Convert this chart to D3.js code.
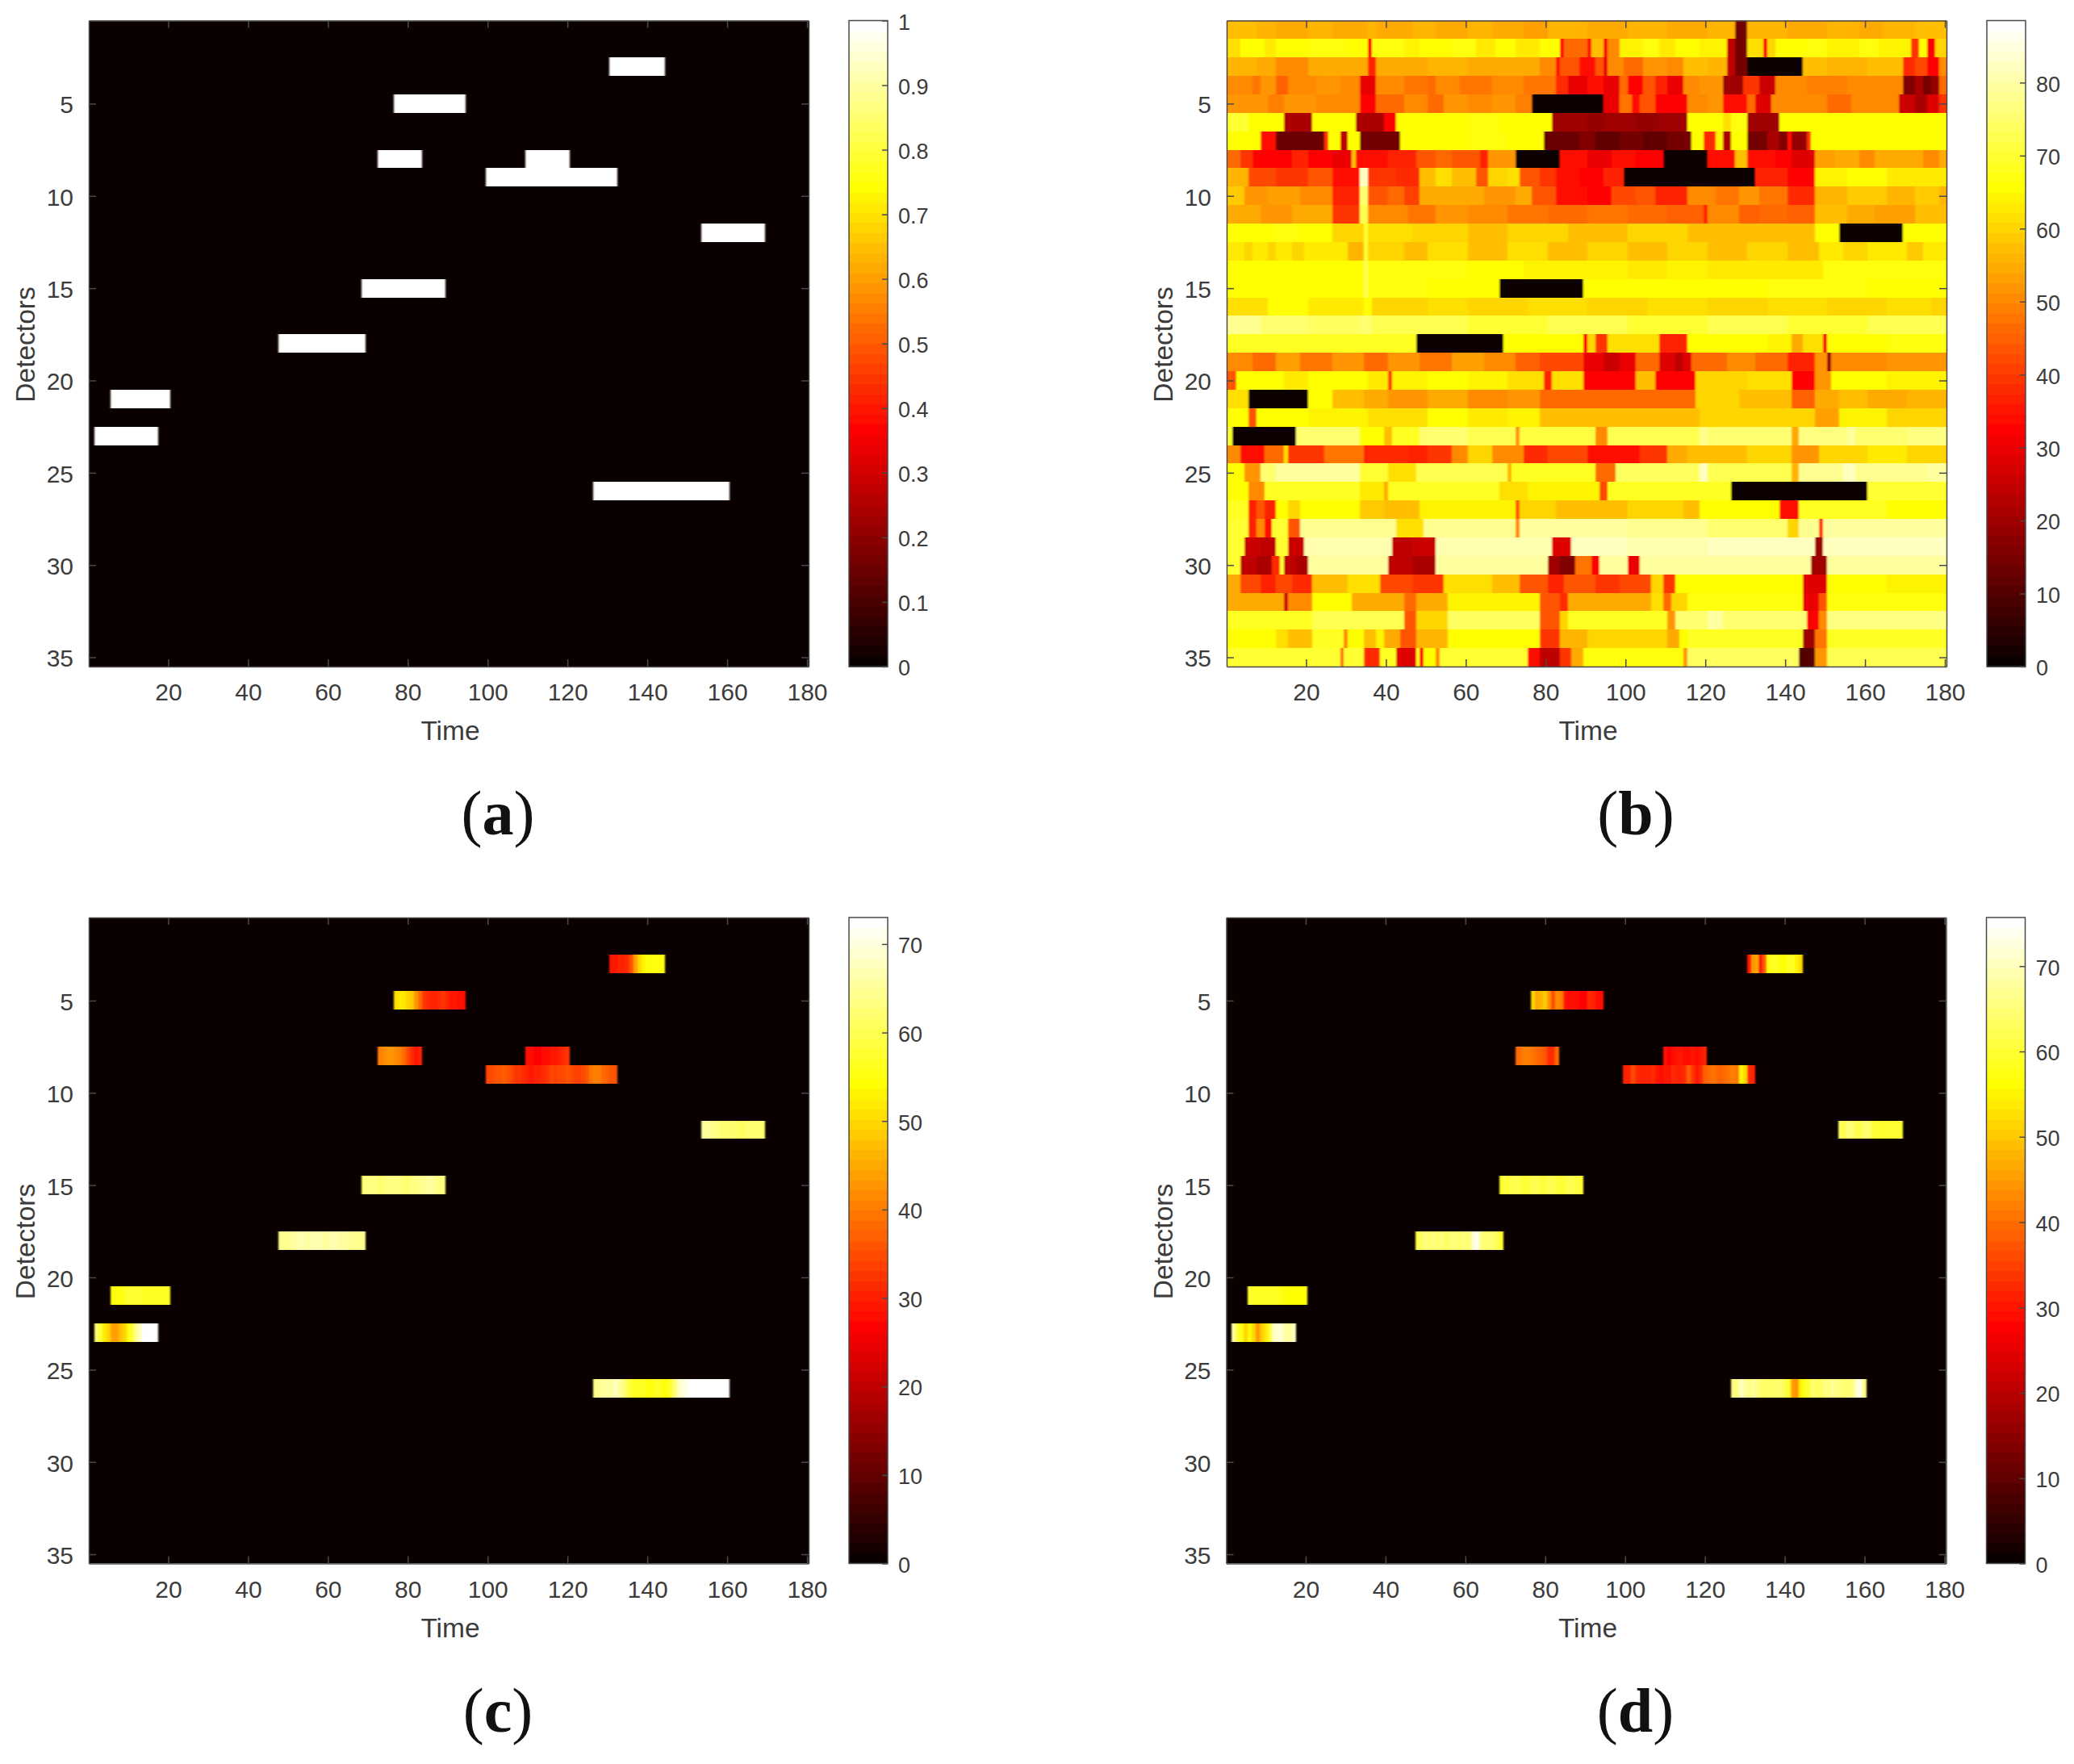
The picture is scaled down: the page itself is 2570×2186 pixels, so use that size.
<!DOCTYPE html>
<html><head><meta charset="utf-8">
<script src="https://cdn.jsdelivr.net/npm/d3@7"></script>
<style>html,body{margin:0;padding:0;background:#fff}svg{display:block}</style>
</head><body><div id="chart"></div>
<script>
// ---------- tick labels ----------
const timeTicks = [20,40,60,80,100,120,140,160,180];
const detectorTicks = [5,10,15,20,25,30,35];
const barTicksA = [0,0.1,0.2,0.3,0.4,0.5,0.6,0.7,0.8,0.9,1];
const barTicksB = [0,10,20,30,40,50,60,70,80];
const barTicksC = [0,10,20,30,40,50,60,70];
const barTicksD = [0,10,20,30,40,50,60,70];
const maxA = 1, maxB = 88.5, maxC = 73, maxD = 75.7;

// ---------- incident events (detector, first and last time step) ----------
const eventRow   = [3,5,8,8,9,12,15,18,21,23,26];
const eventStart = [131,77,73,110,100,154,69,48,6,2,127];
const eventEnd   = [144,94,83,120,132,169,89,69,20,17,160];

// ---------- panel (c) values inside each event ----------
const cE0=[29,29,30,30,31,36,44,50,53,55,55,55,55,55];
const cE1=[51,52,52,50,48,43,38,32,31,30,30,31,32,30,29,29,28,28];
const cE2=[41,42,43,43,42,41,38,35,31,29,30];
const cE3=[28,28,27,27,28,28,29,29,30,31,32];
const cE4=[35,35,36,36,37,36,35,33,32,31,30,29,30,30,31,33,35,34,35,35,36,35,34,34,35,36,39,40,40,38,37,36,36];
const cE5=[66,66,65,63,63,62,62,62,62,61,61,62,62,62,62,62];
const cE6=[62,63,63,63,62,62,63,63,63,63,62,62,63,63,64,64,66,66,64,63,63];
const cE7=[65,65,64,66,66,67,67,66,67,67,67,66,66,67,67,66,66,66,65,65,65,65];
const cE8=[55,55,55,56,58,58,58,58,57,57,56,56,56,56,57];
const cE9=[62,58,52,50,44,44,47,50,55,58,65,68,72,73,73,73];
const cE10=[65,65,66,66,66,68,66,63,60,58,57,56,56,55,55,56,56,55,55,58,63,68,70,71,72,72,73,73,73,73,73,73,73,72];
const cValues=[cE0,cE1,cE2,cE3,cE4,cE5,cE6,cE7,cE8,cE9,cE10];

// ---------- panel (d) values inside each event ----------
const dE0=[30,44,47,30,38,57,58,58,57,56,58,58,55,52];
const dE1=[52,47,48,50,44,36,43,42,30,29,29,29,28,28,32,31,29,29];
const dE2=[40,41,42,42,41,40,39,37,33,32,40];
const dE3=[29,28,29,30,30,29,29,30,29,30,31];
const dE4=[31,31,36,32,31,31,31,32,30,29,30,30,32,31,31,32,38,34,30,33,39,40,41,40,39,40,41,42,41,55,52,32,31];
const dE5=[63,62,66,64,62,62,64,64,61,60,60,60,60,60,60,60];
const dE6=[60,61,61,62,62,61,60,61,62,62,61,61,62,62,61,60,61,62,62,61,60];
const dE7=[62,63,66,64,66,64,66,63,64,66,65,65,66,64,72,74,66,65,64,65,62,60];
const dE8=[60,59,59,58,58,58,58,58,57,57,56,56,56,56,57];
const dE9=[68,60,57,52,56,52,44,50,54,60,70,72,72,68,68,70];
const dE10=[66,66,70,68,66,68,66,64,63,64,63,65,64,62,60,46,44,55,58,60,64,63,63,66,66,68,66,66,64,65,66,72,73,66];
const dValues=[dE0,dE1,dE2,dE3,dE4,dE5,dE6,dE7,dE8,dE9,dE10];

// ---------- panel (b): per detector, runs of [last time step, value] ----------
const b01=[7,58,12,56,20,54,26,56,35,54,37,56,46,54,52,56,60,54,66,56,74,54,80,53,90,56,100,54,110,56,120,54,127,56,130,14,140,56,150,54,158,56,164,54,172,56,177,58,180,57];
const b02=[3,62,9,66,12,63,20,66,30,67,35,65,36,33,44,67,48,64,56,66,62,67,67,63,72,66,78,63,83,65,84,32,90,46,91,34,94,58,95,32,98,50,104,64,108,67,112,63,118,66,125,64,127,24,130,14,134,62,135,32,137,60,145,66,150,67,158,64,163,67,171,64,173,40,175,66,177,32,180,60];
const b03=[7,56,12,55,20,51,26,55,35,54,37,36,44,55,50,54,60,56,70,54,78,55,82,50,83,34,88,44,92,34,94,44,95,30,99,50,104,46,110,52,114,50,120,57,125,56,127,24,130,14,150,57,160,56,169,57,172,38,175,42,178,32,180,50];
const b04=[6,51,8,48,12,52,15,45,22,50,28,52,33,51,37,30,44,50,50,48,52,46,58,50,66,48,74,51,82,48,85,38,90,30,94,34,98,30,100,46,104,32,107,44,110,36,114,30,118,50,124,52,129,20,133,40,137,26,145,50,155,49,162,51,169,50,172,16,174,22,176,14,178,18,180,46];
const b05=[10,52,14,49,22,52,33,50,37,32,44,47,50,50,54,47,60,52,66,50,72,52,76,49,94,50,98,30,101,48,103,34,107,44,115,32,120,50,124,52,130,34,132,46,136,28,150,50,156,47,168,50,172,26,175,22,178,28,180,40];
const b06=[5,70,14,66,21,22,32,66,39,22,42,32,60,66,68,67,81,66,90,20,94,18,102,20,108,18,115,20,124,66,126,61,130,67,138,20,155,66,170,65,180,66];
const b07=[8,66,12,34,24,13,25,40,28,66,30,24,33,66,43,14,60,66,70,67,79,66,88,13,92,16,98,12,104,15,110,12,116,14,119,66,122,38,124,64,126,22,130,66,135,14,138,22,140,16,141,34,145,18,146,40,165,66,180,65];
const b08=[3,46,6,40,16,33,20,36,26,32,31,30,32,58,40,34,47,36,52,44,56,47,60,43,63,44,65,37,72,52,83,0,90,34,96,30,102,34,110,32,120,0,127,34,130,58,137,34,141,32,147,28,152,53,158,55,162,51,168,54,174,55,178,51,180,54];
const b09=[5,56,12,42,20,40,26,44,33,34,35,82,42,40,48,38,52,58,56,61,62,58,65,44,70,60,73,61,78,44,82,40,88,34,94,32,99,36,132,0,140,36,147,32,155,64,165,66,180,63];
const b10=[4,59,10,52,18,53,26,50,33,36,35,76,40,44,44,46,48,41,56,54,64,55,72,52,76,54,82,44,90,34,96,32,102,42,107,44,115,36,122,50,128,48,133,52,140,48,147,38,155,56,165,59,172,56,178,59,180,56];
const b11=[8,54,16,52,26,54,33,40,35,72,45,50,52,48,60,52,70,50,80,48,90,46,100,48,110,46,119,45,120,36,128,50,133,45,140,46,147,45,155,58,162,55,172,53,180,58];
const b12=[11,66,18,67,26,66,34,60,35,70,46,62,60,60,70,58,85,60,100,58,115,60,130,58,147,57,153,66,169,0,180,66];
const b13=[4,63,6,60,10,63,12,60,16,63,19,60,30,63,34,56,35,70,44,60,50,57,60,61,70,58,80,61,90,57,100,60,110,57,120,60,130,57,140,60,148,57,154,63,160,60,170,63,174,59,180,63];
const b14=[34,66,35,72,60,67,74,66,100,64,110,63,120,64,130,63,149,63,180,67];
const b15=[34,66,35,72,50,67,68,66,89,0,104,66,120,65,135,66,160,67,180,66];
const b16=[10,62,20,65,34,63,36,66,50,60,60,62,75,60,90,62,105,60,120,62,135,60,150,62,165,60,176,62,180,60];
const b17=[8,78,20,76,33,74,36,76,60,72,80,70,100,72,120,70,140,72,160,70,180,72];
const b18=[20,68,33,69,47,68,69,0,89,66,90,32,92,60,95,40,104,62,108,62,115,36,135,66,141,64,144,54,149,62,150,32,165,66,180,67];
const b19=[6,50,12,47,18,53,26,48,34,52,40,47,48,52,56,48,64,53,72,50,78,45,89,42,94,30,98,26,102,30,108,46,112,28,114,24,116,28,125,46,132,50,140,46,147,36,150,52,151,18,165,50,180,52];
const b20=[2,44,14,66,20,63,35,66,40,63,41,40,50,64,60,66,70,64,79,62,81,36,89,62,102,32,107,58,117,33,130,60,141,62,147,33,151,52,165,66,180,64];
const b21=[5,62,20,0,26,66,34,58,40,54,50,52,60,54,70,50,78,52,90,47,105,46,117,47,128,60,141,58,147,45,153,54,160,58,170,54,180,56];
const b22=[5,66,7,44,20,66,35,64,50,62,60,66,70,63,78,64,100,58,118,57,130,60,147,60,153,53,165,64,180,60];
const b23=[1,70,17,0,33,76,39,66,41,58,48,68,60,75,72,72,73,52,92,71,95,50,118,73,120,78,141,76,143,54,155,77,157,80,170,76,180,77];
const b24=[3,50,9,34,14,46,15,62,24,40,34,48,35,36,45,38,50,36,56,40,60,50,66,60,74,50,80,38,90,42,103,34,110,40,115,54,130,58,141,60,148,52,160,60,170,63,180,60];
const b25=[4,66,8,52,12,76,33,80,40,70,47,62,70,72,71,56,92,68,97,46,118,74,120,82,141,73,143,56,154,78,157,82,175,78,180,79];
const b26=[5,66,9,50,33,68,39,63,40,54,68,68,75,62,93,64,95,42,126,68,160,0,180,70];
const b27=[5,68,7,36,9,44,12,36,15,66,18,60,33,66,39,59,48,57,72,64,73,44,82,60,100,57,114,60,118,57,138,66,143,34,165,68,180,66];
const b28=[5,70,7,36,9,50,11,34,15,70,18,44,42,78,49,62,72,78,73,50,100,79,120,78,140,76,143,60,148,78,149,40,180,79];
const b29=[4,70,8,26,12,24,15,70,19,26,41,81,46,24,52,26,81,81,86,28,100,82,120,81,147,82,149,20,180,82];
const b30=[3,70,7,24,11,22,13,38,14,70,17,24,20,22,40,80,46,24,52,22,80,80,83,20,87,16,91,48,93,32,100,80,103,30,146,80,150,20,180,79];
const b31=[3,54,8,42,12,36,16,42,21,38,30,58,38,62,46,42,54,40,66,62,73,58,80,44,84,36,92,44,98,40,106,42,109,60,112,40,144,66,150,28,165,66,180,64];
const b32=[14,54,15,26,21,50,31,66,44,54,47,46,55,54,78,64,83,44,85,38,106,54,109,62,111,46,115,60,144,67,148,30,150,44,180,67];
const b33=[21,68,44,72,47,44,55,60,78,74,83,44,85,60,110,68,112,52,120,76,124,80,145,76,148,32,150,50,180,77];
const b34=[12,66,15,62,21,58,29,68,30,50,34,66,37,58,39,64,43,54,47,44,55,56,78,66,83,40,90,56,110,60,113,54,115,66,144,68,147,20,150,48,180,69];
const b35=[28,70,29,46,34,70,38,38,42,68,47,28,48,68,49,34,52,66,53,50,75,70,78,34,83,24,86,40,89,54,114,67,115,52,143,74,147,10,150,52,180,72];
const bRuns=[b01,b02,b03,b04,b05,b06,b07,b08,b09,b10,b11,b12,b13,b14,b15,b16,b17,b18,b19,b20,b21,b22,b23,b24,b25,b26,b27,b28,b29,b30,b31,b32,b33,b34,b35];

// ---------- build matrices ----------
function eventCells(valueOf){
  const cells=[];
  eventRow.forEach((row,i)=>{
    d3.range(eventStart[i],eventEnd[i]+1).forEach((col,k)=>cells.push({row,col,value:valueOf(i,k)}));
  });
  return cells;
}
const cellsA=eventCells(()=>1);
const cellsC=eventCells((i,k)=>cValues[i][k]);
const cellsD=eventCells((i,k)=>dValues[i][k]);
function isEvent(row,col){return eventRow.some((r,i)=>r===row&&col>=eventStart[i]&&col<=eventEnd[i]);}
const cellsB=[];
bRuns.forEach((runs,ri)=>{
  let first=1;
  for(let j=0;j<runs.length;j+=2){
    for(let col=first;col<=runs[j];col++){
      cellsB.push({row:ri+1,col,value:isEvent(ri+1,col)?0:runs[j+1]});
    }
    first=runs[j]+1;
  }
});

// ---------- MATLAB hot(64) ----------
const hot64=d3.range(64).map(i=>{
  const n=24,m=64;
  const cl=v=>Math.max(0,Math.min(1,v));
  return d3.rgb(cl((i+1)/n)*255,cl((i+1-n)/n)*255,cl((i+1-2*n)/(m-2*n))*255).formatHex();
});

// ---------- layout ----------
const W=2570,H=2186;
const svg=d3.select('#chart').append('svg').attr('width',W).attr('height',H).attr('viewBox',`0 0 ${W} ${H}`);
svg.append('rect').attr('width',W).attr('height',H).attr('fill','#fff');
const defs=svg.append('defs');
const soft=defs.append('filter').attr('id','soft').attr('x','-2%').attr('y','-2%').attr('width','104%').attr('height','104%');
soft.append('feGaussianBlur').attr('stdDeviation','1 0.6');
const axisColor='#4a4a4a', textColor='#3c3c3c';
const sans='"Liberation Sans",Arial,sans-serif';

const panels=[
 {letter:'a',dx:0,dy:0,cells:cellsA,max:maxA,ticks:barTicksA},
 {letter:'b',dx:1410,dy:0,cells:cellsB,max:maxB,ticks:barTicksB},
 {letter:'c',dx:0,dy:1111.5,cells:cellsC,max:maxC,ticks:barTicksC},
 {letter:'d',dx:1409.5,dy:1111.5,cells:cellsD,max:maxD,ticks:barTicksD}
];

function styleAxis(g){
  g.selectAll('.domain').attr('stroke',axisColor).attr('stroke-width',1.5);
  g.selectAll('.tick line').attr('stroke',axisColor).attr('stroke-width',1.5);
  g.selectAll('.tick text').attr('fill',textColor).attr('font-family',sans).attr('font-size',30);
}

panels.forEach(p=>{
  const g=svg.append('g').attr('transform',`translate(${p.dx},${p.dy})`);
  const left=110,right=1002,top=25.5,bottom=826;
  const x=d3.scaleLinear().domain([0.1,180.4]).range([left,right]);
  const y=d3.scaleLinear().domain([0.5,35.5]).range([top,bottom]);
  const color=d3.scaleQuantize().domain([0,p.max]).range(hot64);

  const clipId='clip'+p.letter;
  defs.append('clipPath').attr('id',clipId).append('rect').attr('x',left).attr('y',top).attr('width',right-left).attr('height',bottom-top);
  const plot=g.append('g').attr('clip-path',`url(#${clipId})`);
  plot.append('rect').attr('x',left).attr('y',top).attr('width',right-left).attr('height',bottom-top).attr('fill',color(0));
  plot.append('g').attr('filter','url(#soft)').attr('shape-rendering','crispEdges').selectAll('rect').data(p.cells).join('rect')
    .attr('x',d=>d.col===1?left-4:x(d.col-0.5))
    .attr('y',d=>d.row===1?top-4:y(d.row-0.5))
    .attr('width',d=>(d.col===180?right+4:x(d.col+0.5))-(d.col===1?left-4:x(d.col-0.5)))
    .attr('height',d=>(d.row===35?bottom+4:y(d.row+0.5))-(d.row===1?top-4:y(d.row-0.5)))
    .attr('fill',d=>color(d.value));

  const tick=9;
  g.append('g').attr('transform',`translate(0,${bottom})`).call(d3.axisBottom(x).tickValues(timeTicks).tickSizeInner(-tick).tickSizeOuter(0).tickPadding(21)).call(styleAxis);
  g.append('g').attr('transform',`translate(0,${top})`).call(d3.axisTop(x).tickValues(timeTicks).tickSizeInner(-tick).tickSizeOuter(0).tickFormat('')).call(styleAxis);
  g.append('g').attr('transform',`translate(${left},0)`).call(d3.axisLeft(y).tickValues(detectorTicks).tickSizeInner(-tick).tickSizeOuter(0).tickPadding(19)).call(styleAxis)
    .call(a=>a.selectAll('.tick text').attr('dy','0.38em'));
  g.append('g').attr('transform',`translate(${right},0)`).call(d3.axisRight(y).tickValues(detectorTicks).tickSizeInner(-tick).tickSizeOuter(0).tickFormat('')).call(styleAxis);

  g.append('text').attr('x',558).attr('y',917).attr('text-anchor','middle').attr('font-family',sans).attr('font-size',33.5).attr('fill',textColor).text('Time');
  g.append('text').attr('transform','translate(43,427) rotate(-90)').attr('text-anchor','middle').attr('font-family',sans).attr('font-size',33.5).attr('fill',textColor).text('Detectors');

  // colour bar
  const cbL=1052,cbR=1100;
  const cy=d3.scaleLinear().domain([0,p.max]).range([bottom,top]);
  const levels=d3.range(64);
  const lv=d3.scaleLinear().domain([0,64]).range([0,p.max]);
  g.append('g').attr('shape-rendering','crispEdges').selectAll('rect').data(levels).join('rect')
    .attr('x',cbL).attr('width',cbR-cbL)
    .attr('y',i=>cy(lv(i+1)))
    .attr('height',i=>cy(lv(i))-cy(lv(i+1))+0.5)
    .attr('fill',i=>hot64[i]);
  g.append('rect').attr('x',cbL).attr('y',top).attr('width',cbR-cbL).attr('height',bottom-top).attr('fill','none').attr('stroke',axisColor).attr('stroke-width',1.5);
  const fmt=p.letter==='a'?(v=>v===0||v===1?String(v):d3.format('.1f')(v)):d3.format('d');
  g.append('g').attr('transform',`translate(${cbR},0)`).call(d3.axisRight(cy).tickValues(p.ticks).tickSizeInner(-7).tickSizeOuter(0).tickPadding(13).tickFormat(fmt))
    .call(styleAxis).call(a=>{a.select('.domain').remove();a.selectAll('.tick text').attr('font-size',27).attr('dy','0.4em');});

  // panel letter
  const lab=g.append('text').attr('x',617).attr('y',1034).attr('text-anchor','middle').attr('font-family','"Liberation Serif",serif').attr('font-size',78).attr('fill','#111');
  lab.append('tspan').text('(');
  lab.append('tspan').attr('font-weight','bold').text(p.letter);
  lab.append('tspan').text(')');
});
</script></body></html>
